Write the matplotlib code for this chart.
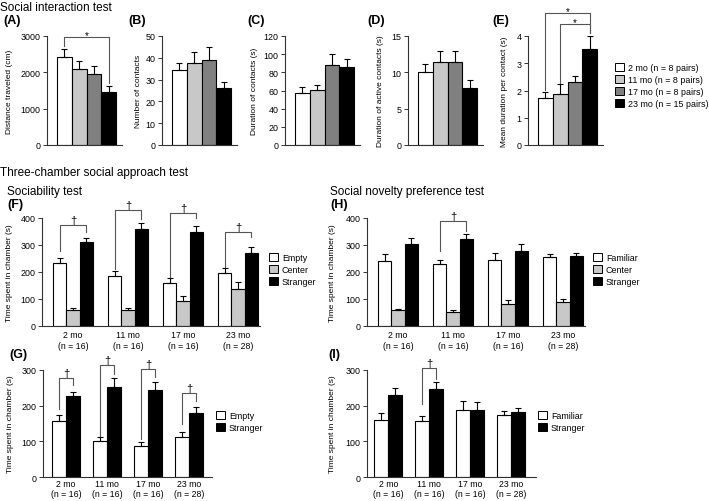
import numpy as np
import matplotlib
matplotlib.use("Agg")
import matplotlib.pyplot as plt
from matplotlib.patches import Patch

plt.rcParams['font.family'] = ['Liberation Sans', 'DejaVu Sans']

W, H = 709, 502

# social interaction test (A-E), one bar per age group
age_legend = ['2 mo (n = 8 pairs)', '11 mo (n = 8 pairs)', '17 mo (n = 8 pairs)', '23 mo (n = 15 pairs)']
age_colors = ['white', '#c8c8c8', '#808080', 'black']

distance = [2430, 2095, 1966, 1468]
distance_err = [203, 222, 203, 147]
contacts = [34.3, 37.4, 38.9, 26.2]
contacts_err = [3.4, 5.2, 6.1, 2.9]
contact_dur = [57.5, 61.0, 88.5, 85.8]
contact_dur_err = [6.9, 5.0, 12.2, 8.8]
active_dur = [10.0, 11.4, 11.4, 7.9]
active_dur_err = [1.1, 1.6, 1.5, 1.0]
mean_dur = [1.71, 1.88, 2.30, 3.54]
mean_dur_err = [0.23, 0.36, 0.25, 0.46]

# three-chamber test
group_labels = ['2 mo\n(n = 16)', '11 mo\n(n = 16)', '17 mo\n(n = 16)', '23 mo\n(n = 28)']
chamber_colors = ['white', '#c8c8c8', 'black']

# (F) sociability
soc_empty = [233, 185, 159, 196]
soc_empty_err = [18, 19, 17, 19]
soc_center = [59, 59, 92, 137]
soc_center_err = [9, 6, 20, 25]
soc_stranger = [310, 359, 350, 272]
soc_stranger_err = [15, 21, 19, 22]

# (H) social novelty
nov_familiar = [242, 228, 246, 254]
nov_familiar_err = [24, 18, 25, 13]
nov_center = [58, 52, 81, 90]
nov_center_err = [6, 7, 17, 10]
nov_stranger = [302, 321, 276, 258]
nov_stranger_err = [23, 19, 27, 14]

# (G) sociability, side chambers only
g_empty = [156, 100, 87, 111]
g_empty_err = [19, 13, 11, 14]
g_stranger = [226, 253, 244, 179]
g_stranger_err = [13, 23, 21, 16]

# (I) social novelty, side chambers only
i_familiar = [161, 158, 188, 173]
i_familiar_err = [17, 14, 24, 13]
i_stranger = [229, 247, 188, 181]
i_stranger_err = [21, 18, 21, 11]

# brackets: (group, top, left leg end, right leg end)
f_brackets = [(0, 374, 276, 347), (1, 430, 212, 396), (2, 418, 181, 399), (3, 347, 218, 329)]
h_brackets = [(1, 388, 279, 353)]
g_brackets = [(0, 277, 190, 257), (1, 313, 116, 288), (2, 302, 107, 281), (3, 234, 149, 212)]
i_brackets = [(1, 305, 204, 274)]

fig = plt.figure(figsize=(W / 100, H / 100), dpi=100)

LINE = '#333333'
BRK = '#555555'


def add_axes(left, top, width, height):
    return fig.add_axes([left / W, 1 - (top + height) / H, width / W, height / H])


def style(ax, label, label_px, spine_px, width_px, xpad=3):
    for s in ['top', 'right']:
        ax.spines[s].set_visible(False)
    for s in ['left', 'bottom']:
        ax.spines[s].set_linewidth(0.8)
        ax.spines[s].set_color(LINE)
    ax.tick_params(axis='y', direction='out', length=3, width=0.7, pad=1.5,
                   labelsize=6.4, color=LINE)
    ax.tick_params(axis='x', length=0, pad=xpad, labelsize=6.3)
    ax.set_ylabel(label, fontsize=6, va='center')
    ax.yaxis.set_label_coords((label_px - spine_px) / width_px, 0.5)


def bracket(ax, x1, x2, top, y1, y2, mark, off=0.0, size=8):
    ax.plot([x1, x1, x2, x2], [y1, top, top, y2], color=BRK, lw=0.8, clip_on=False)
    ax.annotate(mark, ((x1 + x2) / 2, top), xytext=(0, off), textcoords='offset points',
                ha='center', va='bottom', fontsize=size, annotation_clip=False)


def errbars(ax, x, vals, errs):
    ax.errorbar(x, vals, yerr=[np.zeros(len(errs)), errs], fmt='none', ecolor='black',
                elinewidth=0.8, capsize=2.5, capthick=0.8)


# ---- top row ----
top_panels = [
    (47, distance, distance_err, 'Distance traveled (cm)', [0, 1000, 2000, 3000], 10),
    (162, contacts, contacts_err, 'Number of contacts', [0, 10, 20, 30, 40, 50], 139),
    (285, contact_dur, contact_dur_err, 'Duration of contacts (s)', [0, 20, 40, 60, 80, 100, 120], 255),
    (408, active_dur, active_dur_err, 'Duration of active contacts (s)', [0, 5, 10, 15], 380),
    (528, mean_dur, mean_dur_err, 'Mean duration per contact (s)', [0, 1, 2, 3, 4], 504),
]
top_axes = []
x4 = np.arange(4)
for left, vals, errs, lab, ticks, lab_px in top_panels:
    ax = add_axes(left, 37, 75, 109)
    ax.bar(x4, vals, width=1.0, color=age_colors, edgecolor='black', linewidth=0.8)
    errbars(ax, x4, vals, errs)
    ax.set_xlim(-1.18, 3.9)
    ax.set_ylim(0, ticks[-1])
    ax.set_yticks(ticks)
    ax.set_xticks([])
    style(ax, lab, lab_px, left, 75)
    top_axes.append(ax)

bracket(top_axes[0], 0, 3, 2963, 2723, 1708, '*', off=-2, size=7)
bracket(top_axes[4], 0, 3, 4.84, 2.03, 4.12, '*', off=-2, size=7)
bracket(top_axes[4], 1, 3, 4.43, 2.28, 4.12, '*', off=-2, size=7)

handles = [Patch(facecolor=c, edgecolor='black', linewidth=0.7) for c in age_colors]
fig.legend(handles, age_legend, loc='upper left', bbox_to_anchor=(615 / W, 1 - 64 / H),
           frameon=False, fontsize=6.4, handlelength=1.0, handleheight=1.0,
           handletextpad=0.45, labelspacing=0.33, borderpad=0, borderaxespad=0)


# ---- three chamber panels ----
def grouped(ax, series, errs, colors, bw, brackets, first, last, lspace=1.3):
    n = len(series)
    offs = (np.arange(n) - (n - 1) / 2) * bw
    g = np.arange(4)
    for vals, e, c, o in zip(series, errs, colors, offs):
        ax.bar(g + o, vals, width=bw, color=c, edgecolor='black', linewidth=0.8)
        errbars(ax, g + o, vals, e)
    for grp, top, y1, y2 in brackets:
        bracket(ax, grp + offs[first], grp + offs[last], top, y1, y2, '\u2020')
    ax.set_xticks(g)
    ax.set_xticklabels(group_labels, linespacing=lspace)


lab = 'Time spent in chamber (s)'

axF = add_axes(42, 219, 218, 108)
grouped(axF, [soc_empty, soc_center, soc_stranger],
        [soc_empty_err, soc_center_err, soc_stranger_err], chamber_colors, 0.245, f_brackets, 0, 2)
axF.set_xlim(-0.564, 3.4)
axF.set_ylim(0, 400)
axF.set_yticks([0, 100, 200, 300, 400])
style(axF, lab, 10, 42, 218)

axH = add_axes(367, 219, 218, 108)
grouped(axH, [nov_familiar, nov_center, nov_stranger],
        [nov_familiar_err, nov_center_err, nov_stranger_err], chamber_colors, 0.245, h_brackets, 0, 2)
axH.set_xlim(-0.564, 3.4)
axH.set_ylim(0, 400)
axH.set_yticks([0, 100, 200, 300, 400])
style(axH, lab, 332, 367, 218)

axG = add_axes(43, 370.7, 169, 107.6)
grouped(axG, [g_empty, g_stranger], [g_empty_err, g_stranger_err], ['white', 'black'],
        0.34, g_brackets, 0, 1, lspace=1.15)
axG.set_xlim(-0.56, 3.56)
axG.set_ylim(0, 300)
axG.set_yticks([0, 100, 200, 300])
style(axG, lab, 10, 43, 169, xpad=1.5)

axI = add_axes(367, 370.7, 169, 107.6)
grouped(axI, [i_familiar, i_stranger], [i_familiar_err, i_stranger_err], ['white', 'black'],
        0.34, i_brackets, 0, 1, lspace=1.15)
axI.set_xlim(-0.52, 3.6)
axI.set_ylim(0, 300)
axI.set_yticks([0, 100, 200, 300])
style(axI, lab, 332, 367, 169, xpad=1.5)


def chamber_legend(labels, colors, x_px, top_px):
    hs = [Patch(facecolor=c, edgecolor='black', linewidth=0.7) for c in colors]
    fig.legend(hs, labels, loc='upper left', bbox_to_anchor=(x_px / W, 1 - top_px / H),
               frameon=False, fontsize=6.4, handlelength=1.0, handleheight=1.0,
               handletextpad=0.45, labelspacing=0.33, borderpad=0, borderaxespad=0)


chamber_legend(['Empty', 'Center', 'Stranger'], chamber_colors, 269, 254)
chamber_legend(['Familiar', 'Center', 'Stranger'], chamber_colors, 593, 254)
chamber_legend(['Empty', 'Stranger'], ['white', 'black'], 216, 412)
chamber_legend(['Familiar', 'Stranger'], ['white', 'black'], 538, 412)

# ---- headings and panel letters ----
def ftext(x_px, y_px, s, size, bold=False):
    fig.text(x_px / W, 1 - y_px / H, s, fontsize=size, va='baseline', ha='left',
             fontweight='bold' if bold else 'normal')


ftext(0, 11, 'Social interaction test', 8.5)
ftext(0, 176, 'Three-chamber social approach test', 8.5)
ftext(7, 195, 'Sociability test', 8.5)
ftext(330, 195, 'Social novelty preference test', 8.5)
for x, y, s in [(3, 24, '(A)'), (128, 24, '(B)'), (247, 24, '(C)'), (367, 24, '(D)'),
                (492, 24, '(E)'), (7, 208, '(F)'), (330, 208, '(H)'), (9, 358, '(G)'),
                (328, 358, '(I)')]:
    ftext(x, y, s, 9, bold=True)

fig.savefig('out.png', dpi=100)
